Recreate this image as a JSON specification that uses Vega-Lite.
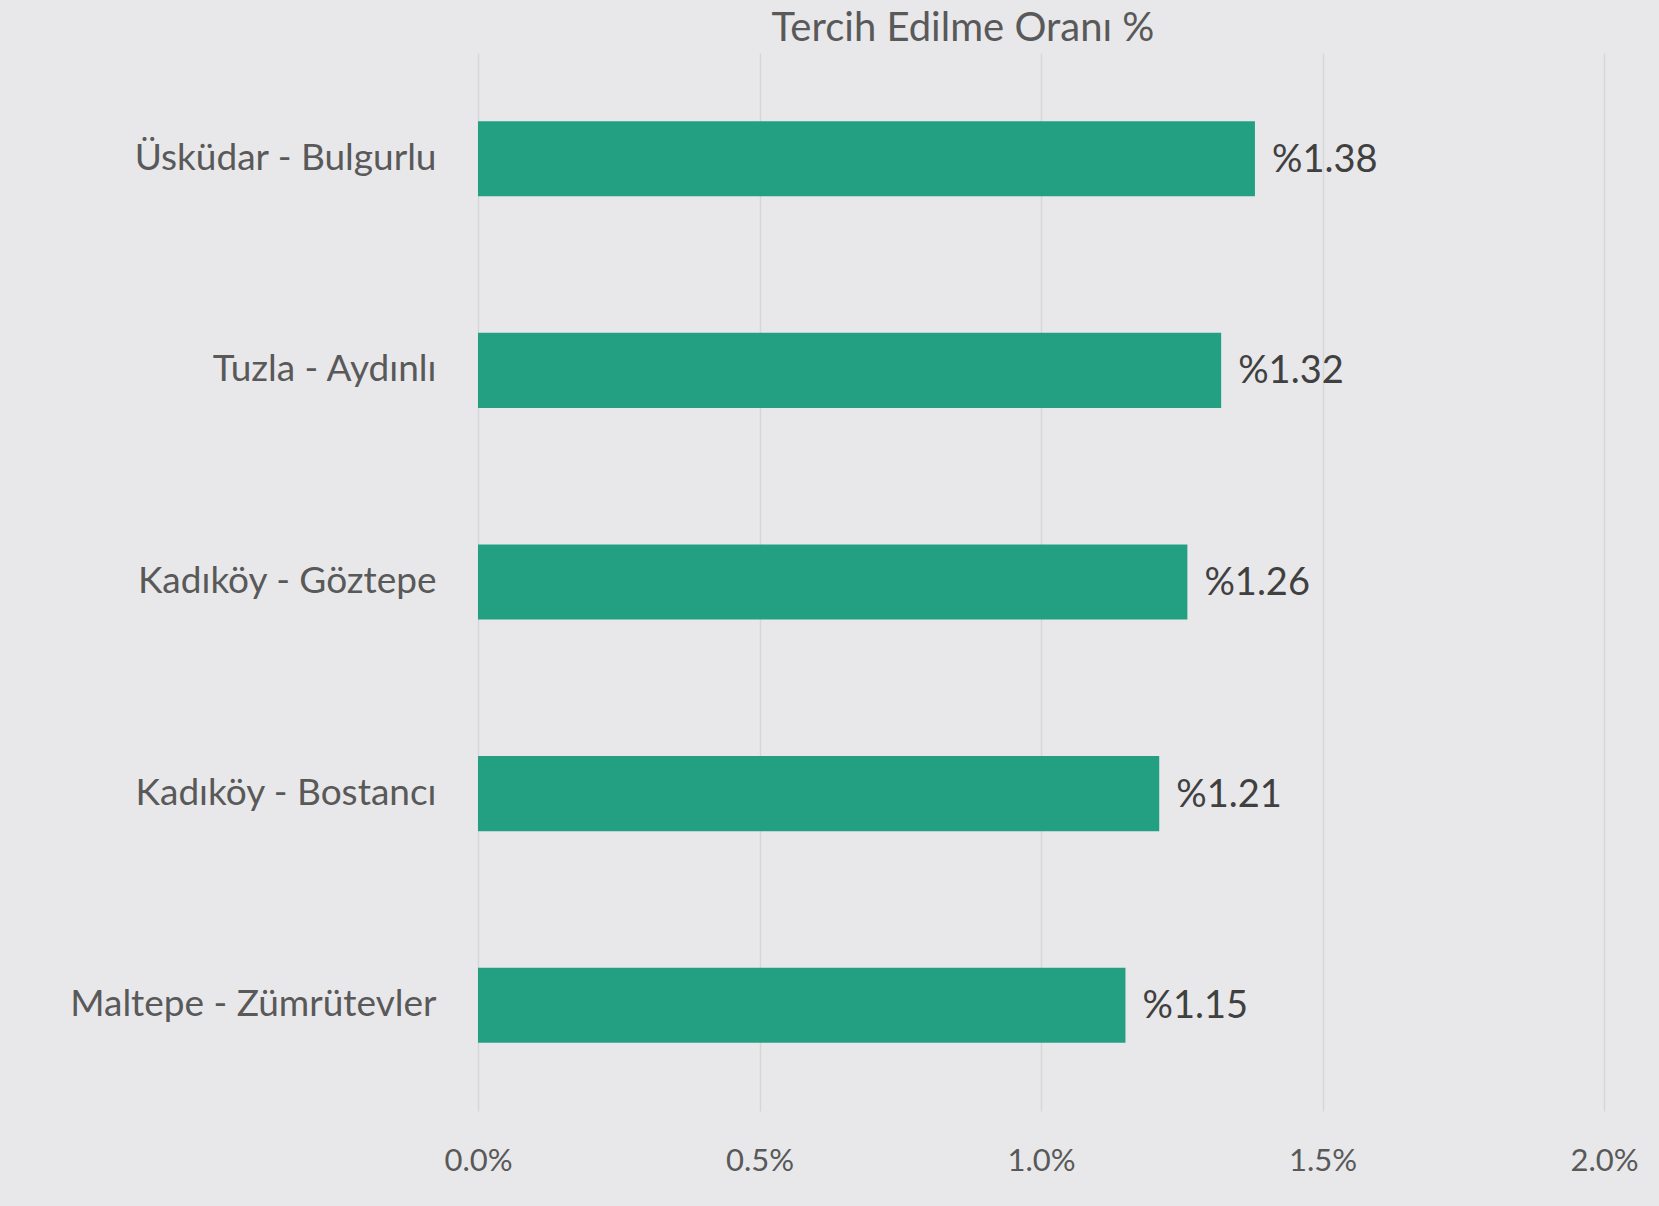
{
  "$schema": "https://vega.github.io/schema/vega-lite/v6.json",
  "width": 1126,
  "height": 1058,
  "autosize": {"type": "none"},
  "padding": {"left": 478, "top": 53, "right": 55, "bottom": 95},
  "background": "#e8e8ea",
  "title": {
    "text": "Tercih Edilme Oranı %",
    "anchor": "middle",
    "frame": "group",
    "dx": -78,
    "offset": 4,
    "font": "Lato",
    "fontSize": 40,
    "fontWeight": "normal",
    "color": "#595959"
  },
  "config": {
    "view": {"stroke": null},
    "font": "Lato"
  },
  "data": {
    "values": [
      {"semt": "Üsküdar - Bulgurlu", "oran": 0.0138, "etiket": "%1.38"},
      {"semt": "Tuzla - Aydınlı", "oran": 0.0132, "etiket": "%1.32"},
      {"semt": "Kadıköy - Göztepe", "oran": 0.0126, "etiket": "%1.26"},
      {"semt": "Kadıköy - Bostancı", "oran": 0.0121, "etiket": "%1.21"},
      {"semt": "Maltepe - Zümrütevler", "oran": 0.0115, "etiket": "%1.15"}
    ]
  },
  "encoding": {
    "y": {
      "field": "semt",
      "type": "nominal",
      "sort": null,
      "title": null,
      "scale": {"paddingInner": 0.645, "paddingOuter": 0.3225},
      "axis": {
        "domain": false,
        "ticks": false,
        "labelFontSize": 37,
        "labelColor": "#595959",
        "labelPadding": 42,
        "labelLimit": 500
      }
    },
    "x": {
      "field": "oran",
      "type": "quantitative",
      "title": null,
      "scale": {"domain": [0, 0.02], "nice": false},
      "axis": {
        "values": [0, 0.005, 0.01, 0.015, 0.02],
        "format": ".1%",
        "domain": false,
        "ticks": false,
        "grid": true,
        "gridColor": "#d6d6d8",
        "gridWidth": 1.5,
        "labelFontSize": 31,
        "labelColor": "#595959",
        "labelPadding": 35,
        "labelFlush": false
      }
    }
  },
  "layer": [
    {"mark": {"type": "bar", "color": "#239f82"}},
    {
      "mark": {"type": "text", "align": "left", "baseline": "middle", "dx": 17, "dy": 2, "fontSize": 38, "color": "#404040"},
      "encoding": {"text": {"field": "etiket"}}
    }
  ]
}
